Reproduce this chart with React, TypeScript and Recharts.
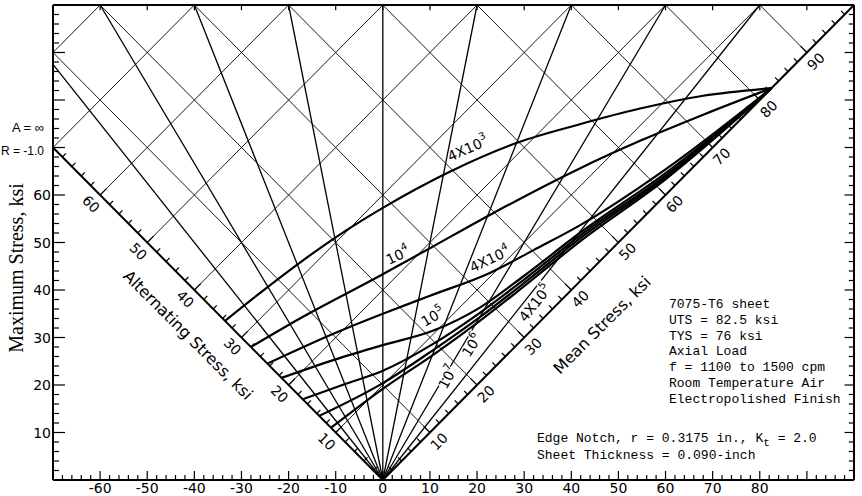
import { ComposedChart, Line, XAxis, YAxis, ReferenceLine, ReferenceDot } from 'recharts';

// x = minimum stress, y = maximum stress (ksi)
const steps = (from: number, to: number, step: number) => {
  const out: number[] = [];
  for (let i = 0; from + i * step <= to + 1e-9; i++) out.push(from + i * step);
  return out;
};

const xTicks = steps(-70, 100, 2);
const xLabels = [-60, -50, -40, -30, -20, -10, 0, 10, 20, 30, 40, 50, 60, 70, 80];
const yTicks = steps(0, 100, 2);
const yLabels = [10, 20, 30, 40, 50, 60];
const meanTicks = steps(2, 98, 2);
const meanLabels = [10, 20, 30, 40, 50, 60, 70, 80, 90];
const altTicks = steps(2, 68, 2);
const altLabels = [10, 20, 30, 40, 50, 60];
const meanGrid = [10, 20, 30, 40, 50, 60, 70, 80, 90];
const altGrid = [10, 20, 30, 40, 50, 60, 70, 80];
const stressRatios = [-0.8, -0.6, -0.4, -0.2, 0, 0.2, 0.4, 0.6, 0.8];

// constant life curves, [min, max]
const c4e3 = [[-33.5, 33.5], [-25, 40.2], [-17, 46.2], [-8, 52.4], [0, 57.3], [14, 64.8], [28.5, 71], [41.8, 74.9], [54.6, 78.2], [68, 80.9], [82.5, 82.5]];
const c1e4 = [[-28, 28], [-17.6, 34], [-0.6, 43], [10, 48.8], [22.7, 55.8], [41.8, 65.6], [54.6, 71.4], [68, 76.9], [82.5, 82.5]];
const c4e4 = [[-24.5, 24.5], [-10, 31], [0, 35], [10, 38.8], [22.7, 43.6], [32, 48.4], [41.8, 53.6], [60, 65.4], [82.5, 82.5]];
const c1e5 = [[-21.5, 21.5], [-10, 25.4], [0, 28.4], [10.6, 31.4], [20.6, 36.3], [30, 43], [41.8, 52], [60, 64.6], [82.5, 82.5]];
const c4e5 = [[-17, 17], [-8, 20.2], [0, 23], [10.6, 28.6], [20.6, 35.2], [30, 42.2], [41.8, 51.4], [60, 64.1], [82.5, 82.5]];
const c1e6 = [[-13.5, 13.5], [0, 20.4], [10.6, 27.3], [20.6, 34.3], [30, 41.5], [41.8, 50.8], [60, 63.7], [82.5, 82.5]];
const c1e7 = [[-11, 11], [0, 19.2], [10.6, 26.3], [20.6, 33.5], [30, 40.8], [41.8, 50.2], [60, 63.3], [82.5, 82.5]];
const curves = [c4e3, c1e4, c4e4, c1e5, c4e5, c1e6, c1e7];

// curve labels: [x, y, rotation, base, exponent]
const curveLabels: [number, number, number, string, string][] = [
  [18.0, 69.8, -24, '4X10', '3'],
  [3.2, 47.3, -25, '10', '4'],
  [22.7, 46.5, -25, '4X10', '4'],
  [10.6, 34.4, -30, '10', '5'],
  [32.3, 37.3, -52, '4X10', '5'],
  [18.9, 28.4, -57, '10', '6'],
  [13.8, 21.7, -62, '10', '7'],
];

const infoLines = [
  '7075-T6 sheet',
  'UTS = 82.5 ksi',
  'TYS = 76 ksi',
  'Axial Load',
  'f = 1100 to 1500 cpm',
  'Room Temperature Air',
  'Electropolished Finish',
];

const SANS = '"DejaVu Sans", sans-serif';
const NARROW = '"Liberation Sans", sans-serif';
const MONO = '"Liberation Mono", "DejaVu Sans Mono", monospace';

const BottomTick = (props: any) => {
  const { x, y, payload } = props;
  const v = payload.value;
  const major = v % 10 === 0;
  return (
    <g>
      <line x1={x} y1={y} x2={x} y2={y - (major ? 9 : 5)} stroke="#000" strokeWidth={1.2} />
      {xLabels.includes(v) && (
        <text x={x} y={y + 13} textAnchor="middle" fontFamily={SANS} fontSize={14} fill="#000">
          {v < 0 ? `-${-v}` : `${v}`}
        </text>
      )}
    </g>
  );
};

const LeftTick = (props: any) => {
  const { x, y, payload } = props;
  const v = payload.value;
  const major = v % 10 === 0;
  return (
    <g>
      <line x1={x} y1={y} x2={x + (major ? 12 : 6)} y2={y} stroke="#000" strokeWidth={1.2} />
      {yLabels.includes(v) && (
        <text x={x - 2} y={y + 5} textAnchor="end" fontFamily={SANS} fontSize={14} fill="#000">
          {v}
        </text>
      )}
    </g>
  );
};

const segments: { a: [number, number]; b: [number, number]; w: number }[] = [];
meanGrid.forEach((m) => {
  const end: [number, number] = 2 * m - 100 >= -70 ? [2 * m - 100, 100] : [-70, 2 * m + 70];
  segments.push({ a: [m, m], b: end, w: 0.9 });
});
altGrid.forEach((a) => {
  const start: [number, number] = a <= 70 ? [-a, a] : [-70, 2 * a - 70];
  segments.push({ a: start, b: [100 - 2 * a, 100], w: 0.9 });
});
stressRatios.forEach((r) => {
  const end: [number, number] = 100 * r < -70 ? [-70, -70 / r] : [100 * r, 100];
  segments.push({ a: [0, 0], b: end, w: 1.3 });
});
meanTicks.forEach((m) => {
  const d = m % 10 === 0 ? 1.35 : 0.75;
  segments.push({ a: [m, m], b: [m - d, m + d], w: 1.2 });
});
altTicks.forEach((a) => {
  const d = a % 10 === 0 ? 1.35 : 0.75;
  segments.push({ a: [-a, a], b: [-a + d, a + d], w: 1.2 });
});
steps(-60, 90, 10).forEach((v) => segments.push({ a: [v, 100], b: [v, 98.9], w: 1.2 }));
yTicks.forEach((v) => {
  if (v > 0 && v < 100) segments.push({ a: [100, v], b: [v % 10 === 0 ? 98 : 98.9, v], w: 1.2 });
});

export default function App() {
  return (
    <div style={{ position: 'relative', width: 862, height: 496, background: '#fff' }}>
      <style>{'body{margin:0}'}</style>
      <ComposedChart width={862} height={496} margin={{ top: 5, right: 8, bottom: 0, left: 0 }}>
        <XAxis
          dataKey="x"
          type="number"
          domain={[-70, 100]}
          ticks={xTicks}
          interval={0}
          tick={<BottomTick />}
          tickSize={0}
          tickMargin={0}
          tickLine={false}
          height={16}
          axisLine={{ stroke: '#000', strokeWidth: 2 }}
          allowDataOverflow
        />
        <YAxis
          type="number"
          domain={[0, 100]}
          ticks={yTicks}
          interval={0}
          tick={<LeftTick />}
          tickSize={0}
          tickMargin={0}
          tickLine={false}
          width={53}
          axisLine={{ stroke: '#000', strokeWidth: 2 }}
          allowDataOverflow
        />
        <ReferenceLine y={100} stroke="#000" strokeWidth={2} ifOverflow="visible" />
        <ReferenceLine x={100} stroke="#000" strokeWidth={2} ifOverflow="visible" />
        {segments.map((s, i) => (
          <ReferenceLine
            key={`s${i}`}
            segment={[{ x: s.a[0], y: s.a[1] }, { x: s.b[0], y: s.b[1] }]}
            stroke="#000"
            strokeWidth={s.w}
            ifOverflow="visible"
          />
        ))}
        <ReferenceLine segment={[{ x: 0, y: 0 }, { x: 100, y: 100 }]} stroke="#000" strokeWidth={2} ifOverflow="visible" />
        <ReferenceLine segment={[{ x: 0, y: 0 }, { x: -70, y: 70 }]} stroke="#000" strokeWidth={2} ifOverflow="visible" />
        {curves.map((c, i) => (
          <Line
            key={`c${i}`}
            data={c.map(([x, y]) => ({ x, y }))}
            dataKey="y"
            type="monotone"
            stroke="#000"
            strokeWidth={2.2}
            dot={false}
            isAnimationActive={false}
          />
        ))}
        {meanLabels.map((m) => (
          <ReferenceDot
            key={`ml${m}`}
            x={m}
            y={m}
            r={0}
            ifOverflow="visible"
            shape={(p: any) => (
              <text
                x={p.cx + 9}
                y={p.cy + 9}
                transform={`rotate(-45 ${p.cx + 9} ${p.cy + 9})`}
                textAnchor="middle"
                dominantBaseline="central"
                fontFamily={SANS}
                fontSize={14}
              >
                {m}
              </text>
            )}
          />
        ))}
        {altLabels.map((a) => (
          <ReferenceDot
            key={`al${a}`}
            x={-a}
            y={a}
            r={0}
            ifOverflow="visible"
            shape={(p: any) => (
              <text
                x={p.cx - 9}
                y={p.cy + 9}
                transform={`rotate(45 ${p.cx - 9} ${p.cy + 9})`}
                textAnchor="middle"
                dominantBaseline="central"
                fontFamily={SANS}
                fontSize={14}
              >
                {a}
              </text>
            )}
          />
        ))}
        {curveLabels.map(([x, y, rot, base, exp], i) => (
          <ReferenceDot
            key={`cl${i}`}
            x={x}
            y={y}
            r={0}
            ifOverflow="visible"
            shape={(p: any) => (
              <text
                x={p.cx}
                y={p.cy}
                transform={`rotate(${rot} ${p.cx} ${p.cy})`}
                textAnchor="middle"
                dominantBaseline="central"
                fontFamily={SANS}
                fontSize={14}
                style={{ paintOrder: 'stroke' }}
                stroke="#fff"
                strokeWidth={2.5}
              >
                {base}
                <tspan dy={-6} fontSize={10}>{exp}</tspan>
              </text>
            )}
          />
        ))}
      </ComposedChart>
      <svg width={862} height={496} style={{ position: 'absolute', left: 0, top: 0, pointerEvents: 'none' }}>
        <text x={16} y={268} transform="rotate(-90 16 268)" textAnchor="middle" dominantBaseline="central"
          fontFamily='"Liberation Serif", serif' fontSize={20}>
          Maximum Stress, ksi
        </text>
        <text x={44} y={132} textAnchor="end" fontFamily={NARROW} fontSize={13}>A = ∞</text>
        <text x={44} y={155} textAnchor="end" fontFamily={NARROW} fontSize={12}>R = -1.0</text>
        <text x={188} y={335} transform="rotate(45 188 335)" textAnchor="middle" dominantBaseline="central"
          fontFamily={SANS} fontSize={16}>
          Alternating Stress, ksi
        </text>
        <text x={602} y={325} transform="rotate(-45 602 325)" textAnchor="middle" dominantBaseline="central"
          fontFamily={SANS} fontSize={16}>
          Mean Stress, ksi
        </text>
        {infoLines.map((t, i) => (
          <text key={t} x={669} y={308 + i * 15.8} fontFamily={MONO} fontSize={13}>{t}</text>
        ))}
        <text x={537} y={442} fontFamily={MONO} fontSize={13}>
          Edge Notch, r = 0.3175 in., K<tspan dy={4} fontSize={11}>t</tspan><tspan dy={-4}> = 2.0</tspan>
        </text>
        <text x={537} y={459} fontFamily={MONO} fontSize={13}>Sheet Thickness = 0.090-inch</text>
      </svg>
    </div>
  );
}
